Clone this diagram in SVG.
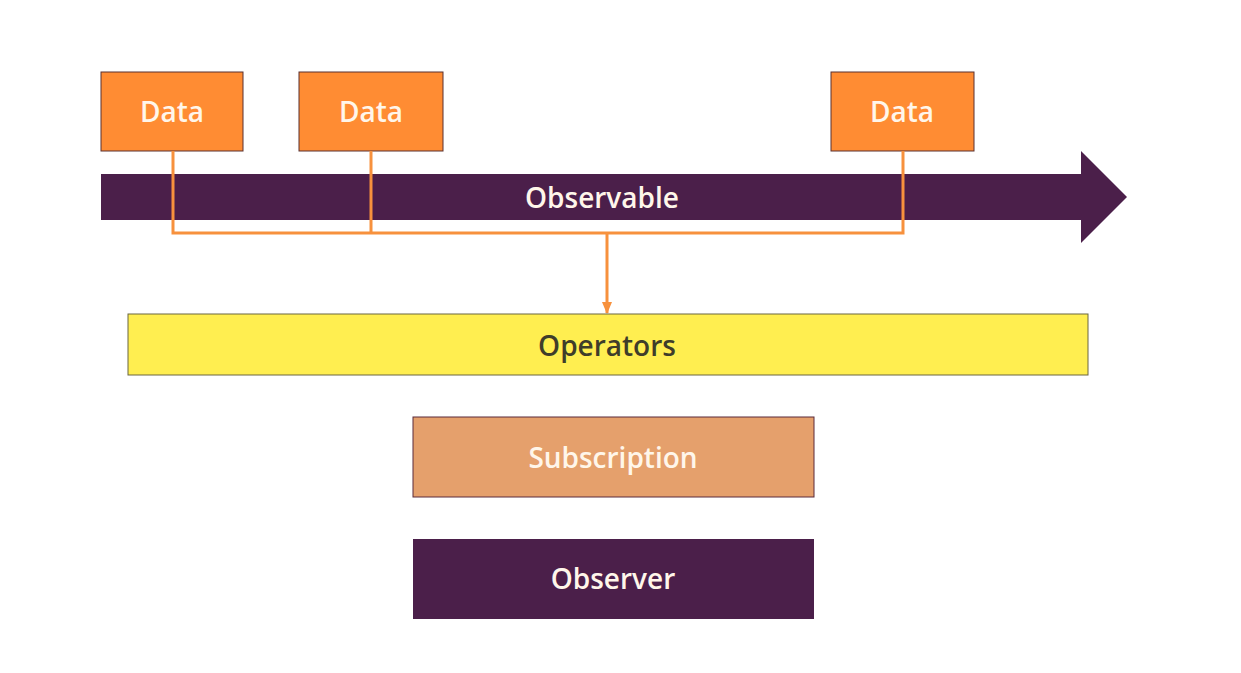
<svg xmlns="http://www.w3.org/2000/svg" width="1241" height="673" viewBox="0 0 1241 673">
<defs>
<style>
.lbl{font-family:"Open Sans","Noto Sans",sans-serif;font-size:28px;font-weight:600;text-anchor:middle;dominant-baseline:central;fill:#FFF6EA}
.data rect{fill:#FF8C33;stroke:#5a3030;stroke-width:1}
.conn{fill:none;stroke:#F7913D;stroke-width:3}
</style>
<marker id="ah" markerWidth="12" markerHeight="10" refX="11" refY="5" orient="auto" markerUnits="userSpaceOnUse">
<path d="M0,0 L12,5 L0,10 z" fill="#F7913D"/>
</marker>
</defs>
<rect width="1241" height="673" fill="#FFFFFF"/>
<g id="observable">
<path d="M101,174 H1081 V151 L1127,197 L1081,243 V220 H101 Z" fill="#4B1F4A"/>
<text class="lbl" x="602" y="197">Observable</text>
</g>
<g id="data1" class="data">
<rect x="101" y="72" width="142" height="79"/>
<text class="lbl" x="172" y="111">Data</text>
</g>
<g id="data2" class="data">
<rect x="299" y="72" width="144" height="79"/>
<text class="lbl" x="371" y="111">Data</text>
</g>
<g id="data3" class="data">
<rect x="831" y="72" width="143" height="79"/>
<text class="lbl" x="902" y="111">Data</text>
</g>
<g id="connectors">
<path class="conn" d="M173,151 V233 H903 V151"/>
<path class="conn" d="M371,151 V233"/>
<path class="conn" d="M607,233 V313" marker-end="url(#ah)"/>
</g>
<g id="operators">
<rect x="128" y="314" width="960" height="61" fill="#FFEE50" stroke="#6b6640" stroke-width="1"/>
<text class="lbl" x="607" y="345" style="fill:#3f3d2a">Operators</text>
</g>
<g id="subscription">
<rect x="413" y="417" width="401" height="80" fill="#E5A06C" stroke="#5a2a3a" stroke-width="1"/>
<text class="lbl" x="613" y="457">Subscription</text>
</g>
<g id="observer">
<rect x="413" y="539" width="401" height="80" fill="#4B1F4A"/>
<text class="lbl" x="613" y="578">Observer</text>
</g>
</svg>
